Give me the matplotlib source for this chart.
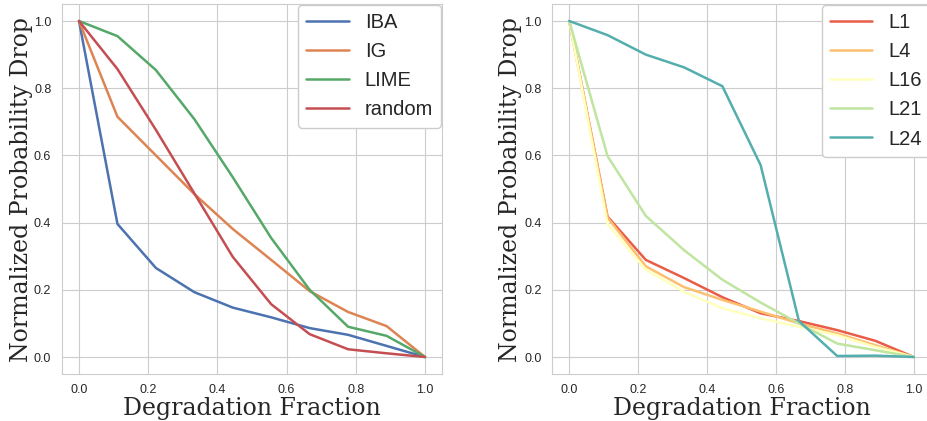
import matplotlib
matplotlib.use("Agg")
import matplotlib.pyplot as plt
import seaborn as sns
import numpy as np

sns.set_style("whitegrid")
plt.rcParams['font.family'] = ['Liberation Sans', 'DejaVu Sans']

frac = np.arange(10) / 9

# left panel: attribution methods
methods = ["IBA", "IG", "LIME", "random"]
iba = [1.0, 0.396, 0.265, 0.193, 0.147, 0.118, 0.086, 0.066, 0.033, 0.0]
ig = [1.0, 0.715, 0.600, 0.485, 0.381, 0.289, 0.196, 0.134, 0.092, 0.0]
lime = [1.0, 0.955, 0.854, 0.708, 0.535, 0.354, 0.200, 0.090, 0.063, 0.0]
rnd = [1.0, 0.857, 0.676, 0.487, 0.298, 0.157, 0.068, 0.023, 0.011, 0.0]

# right panel: layers
layers = ["L1", "L4", "L16", "L21", "L24"]
l1 = [1.0, 0.418, 0.289, 0.235, 0.178, 0.130, 0.107, 0.080, 0.048, 0.0]
l4 = [1.0, 0.415, 0.270, 0.208, 0.170, 0.135, 0.100, 0.070, 0.035, 0.0]
l16 = [1.0, 0.396, 0.260, 0.194, 0.145, 0.115, 0.090, 0.065, 0.030, 0.0]
l21 = [1.0, 0.598, 0.420, 0.318, 0.230, 0.162, 0.100, 0.040, 0.020, 0.0]
l24 = [1.0, 0.958, 0.900, 0.862, 0.806, 0.571, 0.107, 0.003, 0.004, 0.0]

W, H = 928, 421
fig = plt.figure(figsize=(W / 100, H / 100), dpi=100)
ax1 = fig.add_axes([61.7 / W, 1 - 373.8 / H, 380.6 / W, 369.6 / H])
ax2 = fig.add_axes([552 / W, 1 - 373.8 / H, 379 / W, 369.6 / H])

deep = sns.color_palette("deep")
for ys, name, c in zip([iba, ig, lime, rnd], methods, deep[:4]):
    ax1.plot(frac, ys, color=c, lw=1.8, label=name)

spec = sns.color_palette("Spectral", 5)
for ys, name, c in zip([l1, l4, l16, l21, l24], layers, spec):
    ax2.plot(frac, ys, color=c, lw=1.8, label=name)

for ax, lx in [(ax1, -0.075), (ax2, -0.078)]:
    ax.set_xticks([0, 0.2, 0.4, 0.6, 0.8, 1.0])
    ax.set_yticks([0, 0.2, 0.4, 0.6, 0.8, 1.0])
    ax.tick_params(labelsize=9, colors='#262626', pad=4)
    ax.set_xlabel("Degradation Fraction", family='DejaVu Serif', fontsize=17, color='#262626')
    ax.set_ylabel("Normalized Probability Drop", family='DejaVu Serif', fontsize=17, color='#262626')
    ax.xaxis.set_label_coords(0.5, -0.062)
    ax.yaxis.set_label_coords(lx, 0.5)
    ax.legend(loc='upper right', fontsize=14.5, borderaxespad=0.05, framealpha=1,
              handlelength=2.1)

fig.savefig("out.png", dpi=100)
